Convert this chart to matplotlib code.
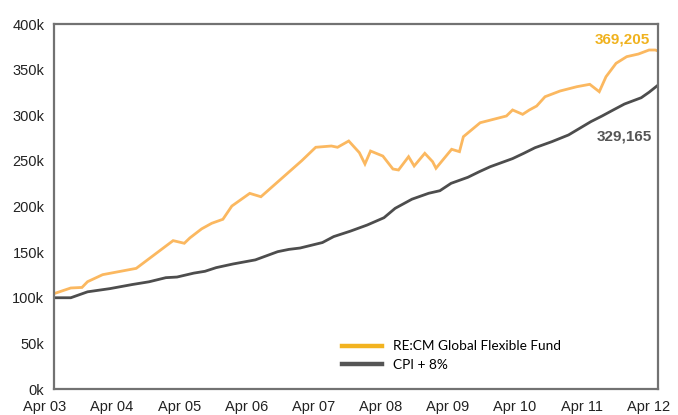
import matplotlib.pyplot as plt
from matplotlib.lines import Line2D
from matplotlib.transforms import ScaledTranslation

# months since Apr 03, values in thousands
fund_months = [0, 3, 5, 6, 8.7, 14.7, 21.3, 23.3, 24.3, 26.4, 28.2, 30.2, 31.8, 35, 37,
               44.3, 46.8, 49.6, 50.7, 52.7, 54.6, 55.6, 56.6, 58.8, 60.6, 61.6, 63.4,
               64.4, 66.3, 67.7, 68.3, 71.1, 72.5, 73.2, 76.2, 80.9, 82, 83.8, 85, 86.3,
               87.8, 90.5, 93.5, 95.8, 97.5, 98.7, 100.5, 102.4, 104.5, 106.4, 107.5, 108]
fund_vals = [104.5, 110.7, 111.3, 117.6, 125.3, 132.2, 162.6, 159.7, 165.6, 175.5, 181.6,
             186, 200.5, 214.4, 210.7, 250.2, 264.9, 266.3, 264.9, 271.8, 259, 246.6, 260.8,
             255.3, 241.1, 240, 254.6, 244.4, 258.3, 249.1, 241.9, 262.7, 260.1, 276.5,
             291.8, 299.2, 305.8, 301, 305.8, 310.1, 320.3, 326.6, 331.3, 333.9, 325.8,
             342.2, 356.9, 364.2, 367.1, 371.5, 371.5, 370.4]

cpi_months = [0, 3, 6, 10, 14, 17, 20, 22, 25, 27, 29, 32, 36, 40, 42, 44, 48, 50, 53, 56,
              59, 61, 64, 67, 69, 71, 74, 76, 78, 82, 84, 86, 89, 92, 94, 96, 98, 100, 102,
              105, 106.4, 108]
cpi_vals = [100, 100, 106.5, 110, 114.5, 117.5, 122, 122.7, 127, 129, 133, 137, 141.5, 150.5,
            153, 154.5, 160.5, 167, 173, 179.7, 187.7, 198, 208, 214.5, 217.3, 225.4, 232,
            238, 243.6, 252.5, 258.3, 264.4, 271, 278.4, 285.7, 293, 299.2, 305.8, 312.3,
            319.2, 325.2, 333]

xtick_pos = [0, 12, 24, 36, 48, 60, 72, 84, 96, 108]
xtick_labels = ['Apr 03', 'Apr 04', 'Apr 05', 'Apr 06', 'Apr 07',
                'Apr 08', 'Apr 09', 'Apr 10', 'Apr 11', 'Apr 12']
ytick_pos = [0, 50, 100, 150, 200, 250, 300, 350, 400]
ytick_labels = [f'{v}k' for v in ytick_pos]

plt.rcParams['font.family'] = ['Liberation Sans', 'DejaVu Sans']

fig = plt.figure(figsize=(6.78, 4.15), dpi=100)
ax = fig.add_axes([54 / 678, 1 - 389 / 415, 604 / 678, 365 / 415])

ax.plot(fund_months, fund_vals, color='#fbb860', lw=2.0, solid_joinstyle='miter')
ax.plot(cpi_months, cpi_vals, color='#4d4d4d', lw=2.0, solid_joinstyle='miter')

ax.set_xlim(0, 108)
ax.set_ylim(0, 400)
ax.set_xticks(xtick_pos)
ax.set_xticklabels(xtick_labels, fontsize=10.5, color='#222222')
ax.set_yticks(ytick_pos)
ax.set_yticklabels(ytick_labels, fontsize=10.5, color='#222222')
ax.tick_params(length=0, pad=7)
ax.tick_params(axis='x', pad=8)
for lab in ax.get_xticklabels():
    lab.set_transform(lab.get_transform() + ScaledTranslation(-9 / 100, 0, fig.dpi_scale_trans))

for s in ax.spines.values():
    s.set_color('#727272')
    s.set_linewidth(1.6)

ax.text(106.6, 383.5, '369,205', color='#f0b21e', fontsize=11, fontweight='bold',
        ha='right', va='center')
ax.text(106.9, 276.5, '329,165', color='#555555', fontsize=11, fontweight='bold',
        ha='right', va='center')

handles = [Line2D([], [], color='#f2b320', lw=3.2),
           Line2D([], [], color='#555555', lw=3.2)]
ax.legend(handles, ['RE:CM Global Flexible Fund', 'CPI + 8%'], loc='lower left',
          bbox_to_anchor=(0.465, 0.03), frameon=False, handlelength=3.0,
          handletextpad=0.8, labelspacing=0.5, borderpad=0,
          prop={'family': 'Lato', 'size': 9.8})

fig.savefig('out.png', dpi=100)
